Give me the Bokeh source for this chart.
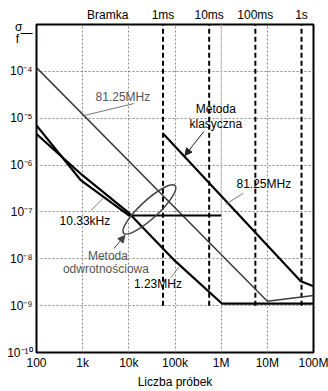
from bokeh.plotting import figure
from bokeh.models import FixedTicker, Label, Arrow, NormalHead, LogAxis
from bokeh.embed import file_html
from bokeh.resources import INLINE

# ---- data ----
x_ticks = [100, 1000, 10000, 100000, 1000000, 10000000, 100000000]
x_tick_labels = ["100", "1k", "10k", "100k", "1M", "10M", "100M"]
y_ticks = [1e-10, 1e-9, 1e-8, 1e-7, 1e-6, 1e-5, 1e-4]
y_tick_labels = ["10\u207b\u00b9\u2070", "10\u207b\u2079", "10\u207b\u2078", "10\u207b\u2077",
                 "10\u207b\u2076", "10\u207b\u2075", "10\u207b\u2074"]
gate_n = [5.5e4, 5.5e5, 5.5e6, 5.5e7]
gate_labels = ["1ms", "10ms", "100ms", "1s"]
gate_floor = 1e-9
bramka_n = 3500
bramka_label = "Bramka"
# y-axis title "sigma over f", written as three stacked labels
ytitle_pos = [8.8e-4, 6.5e-4, 4.9e-4]
ytitle_txt = ["\u03c3   ", "\u2014", "f    "]

# reciprocal method, 81.25 MHz (thin grey)
rec81_n = [1e2, 1e7, 1e8]
rec81_s = [1.2e-4, 1.24e-9, 1.65e-9]
# reciprocal method, 10.33 kHz
rec10k_n = [1e2, 9.2e2, 1e4, 1e6]
rec10k_s = [7e-6, 4.7e-7, 8.4e-8, 8.4e-8]
# reciprocal method, 1.23 MHz
rec123_n = [1e2, 1e3, 1e4, 1e5, 1.05e6, 1e8]
rec123_s = [4.6e-6, 6e-7, 9.5e-8, 9e-9, 1.1e-9, 1.1e-9]
# classic method, 81.25 MHz
cls81_n = [5.5e4, 5.3e7, 1e8]
cls81_s = [4.7e-6, 3.3e-9, 2.6e-9]

FONT = "Liberation Sans"
GREY = "#3c3c3c"

p = figure(width=328, height=391, x_axis_type="log", y_axis_type="log",
           x_range=(1e2, 1e8), y_range=(1e-10, 1e-3),
           toolbar_location=None, output_backend="svg",
           min_border_left=36, min_border_right=15, min_border_top=24, min_border_bottom=39)
p.background_fill_color = "white"
p.border_fill_color = "white"
p.outline_line_color = "black"
p.outline_line_width = 2


def style_axis(a, standoff):
    a.major_tick_line_color = None
    a.minor_tick_line_color = None
    a.major_tick_out = 0
    a.major_tick_in = 0
    a.minor_tick_out = 0
    a.minor_tick_in = 0
    a.axis_line_color = None
    a.major_label_standoff = standoff
    a.major_label_text_font = FONT
    a.major_label_text_font_size = "12px"
    a.major_label_text_color = "black"
    a.major_label_text_line_height = 1.0


ax = p.xaxis[0]
ax.ticker = FixedTicker(ticks=x_ticks)
ax.major_label_overrides = dict(zip(x_ticks, x_tick_labels))
style_axis(ax, 3)
ax.axis_label = "Liczba próbek"
ax.axis_label_text_font = FONT
ax.axis_label_text_font_size = "12px"
ax.axis_label_text_font_style = "normal"
ax.axis_label_text_color = "black"
ax.axis_label_text_line_height = 1.0
ax.axis_label_standoff = 2

ay = p.yaxis[0]
ay.ticker = FixedTicker(ticks=y_ticks + ytitle_pos)
ov = dict(zip(y_ticks, y_tick_labels))
ov.update(dict(zip(ytitle_pos, ytitle_txt)))
ay.major_label_overrides = ov
style_axis(ay, 4)

top = LogAxis(ticker=FixedTicker(ticks=[bramka_n] + gate_n),
              major_label_overrides=dict(zip([bramka_n] + gate_n, [bramka_label] + gate_labels)))
style_axis(top, 3)
p.add_layout(top, "above")

p.xgrid.ticker = FixedTicker(ticks=x_ticks[1:-1])
p.ygrid.ticker = FixedTicker(ticks=y_ticks[1:])
for g in (p.xgrid, p.ygrid):
    g.grid_line_color = "#888888"
    g.grid_line_dash = "2 2"
    g.grid_line_width = 1

# light line at the end of the 10.33 kHz plateau
p.segment(x0=[rec10k_n[-1]], y0=[rec10k_s[-1]], x1=[rec10k_n[-1]], y1=[1e-3],
          line_color="#c8c8c8", line_width=1)

# gate lines
p.segment(x0=gate_n, y0=[gate_floor] * len(gate_n), x1=gate_n, y1=[1e-3] * len(gate_n),
          line_color="black", line_width=2, line_dash="5 3")

# curves
p.line(rec81_n, rec81_s, line_color=GREY, line_width=1.5)
p.line(rec10k_n, rec10k_s, line_color="black", line_width=2.2)
p.line(rec123_n, rec123_s, line_color="black", line_width=2.2)
p.line(cls81_n, cls81_s, line_color="black", line_width=2.2)


def lab(x, y, text, color="black", size="12px", align="center", baseline="middle"):
    p.add_layout(Label(x=x, y=y, text=text, text_color=color, text_font=FONT,
                       text_font_size=size, text_align=align, text_baseline=baseline))


# annotations
lab(7450, 2.77e-5, "81.25MHz", color="#555555")
p.segment(x0=[12900], y0=[2.06e-5], x1=[1070], y1=[1.14e-5], line_color="#777777", line_width=1)

lab(7.68e5, 1.61e-5, "Metoda")
lab(7.68e5, 7.7e-6, "klasyczna")
p.add_layout(Arrow(end=NormalHead(size=7, fill_color="#222222", line_color="#222222"),
                   x_start=4.22e5, y_start=5.2e-6, x_end=1.64e5, y_end=1.6e-6,
                   line_color="#222222", line_width=1))

lab(8.4e6, 4.03e-7, "81.25MHz")
p.segment(x0=[3.0e6], y0=[2.5e-7], x1=[1.25e6], y1=[1.45e-7], line_color="#777777", line_width=1)

lab(1120, 6.25e-8, "10.33kHz")
p.segment(x0=[1510], y0=[1.07e-7], x1=[2750], y1=[1.93e-7], line_color="#777777", line_width=1)

p.ellipse(x=[2.79e4], y=[1.13e-7], width=70, height=18, angle=0.745,
          width_units="screen", height_units="screen",
          fill_color=None, line_color="#444444", line_width=1.5)

lab(3530, 1.17e-8, "Metoda", color="#555555")
lab(3190, 6.2e-9, "odwrotnościowa", color="#555555")
p.add_layout(Arrow(end=NormalHead(size=7, fill_color="#444444", line_color="#444444"),
                   x_start=4760, y_start=1.66e-8, x_end=8240, y_end=3.14e-8,
                   line_color="#444444", line_width=1))

lab(4.27e4, 2.83e-9, "1.23MHz")
p.segment(x0=[8.15e4], y0=[3.98e-9], x1=[1.21e5], y1=[6.6e-9], line_color="#777777", line_width=1)

open("out.html", "w").write(file_html(p, INLINE))
